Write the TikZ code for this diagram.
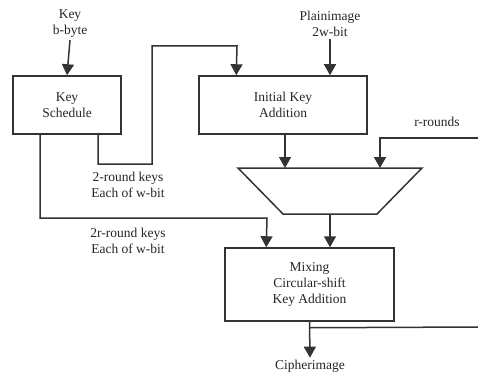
\documentclass[tikz,border=0pt]{standalone}
\usepackage{fontspec}
\setmainfont{Liberation Serif}
\usepackage{tikz}
\usetikzlibrary{arrows.meta}
\usetikzlibrary{positioning}
\tikzstyle{block}=[draw=black!80,line width=1.5pt,inner sep=0pt,align=center,text=black!85]
\tikzstyle{edge} = [draw,line width=1.5pt,black!80,-{Triangle[width=12pt,length=11pt]}]
\tikzstyle{wire} = [draw,line width=1.5pt,black!80]
\tikzstyle{note} = [align=center,inner sep=2pt,text=black!85]

\begin{document}
\begin{tikzpicture}[x=1pt,y=-1pt,font=\fontsize{13.5}{16}\selectfont]
    \useasboundingbox (0,0) rectangle (478,374);
    % boxes
    \node[block,minimum width=108pt,minimum height=58pt] (keysched) at (67,105) {Key\\Schedule};
    \node[block,minimum width=168pt,minimum height=58pt] (initkey) at (283,105) {Initial Key\\Addition};
    \node[block,minimum width=169pt,minimum height=73pt] (mixing) at (309.5,284.5) {Mixing\\Circular-shift\\Key Addition};
    % mux
    \draw[wire,line join=miter] (238,168) -- (422,168) -- (377,214) -- (283,214) -- cycle;
    \coordinate (muxtop) at (330,168);
    \coordinate (muxout) at (330,214);
    % texts
    \foreach \pos/\name/\txt in {{(70,24)/keyin/Key\\b-byte}, {(330,24)/plainin/Plainimage\\2w-bit},
        {(128,185)/tworound/2-round keys\\Each of w-bit}, {(128,241)/rround/2r-round keys\\Each of w-bit},
        {(437,122)/rounds/r-rounds}, {(310,366)/cipher/Cipherimage}}
        \node[note] (\name) at \pos {\txt};
    \coordinate (rin) at (478,138);
    \coordinate (fb) at (478,327);
    % connectors
    \path[edge] (keyin.south) -- (keysched.north);
    \path[edge] (plainin.south) -- (plainin.south |- initkey.north);
    \path[edge] ([xshift=31pt]keysched.south) |- (152,164) |- (237,46) -- ([xshift=38pt]initkey.north west);
    \path[edge] ([xshift=-27pt]keysched.south) |- (267,218) -- ([xshift=42pt]mixing.north west);
    \path[edge] ([xshift=2pt]initkey.south) -- ([xshift=2pt]initkey.south |- muxtop);
    \path[edge] (rin) -| ([xshift=50pt]muxtop);
    \path[edge] (muxout) -- (muxout |- mixing.north);
    \path[edge] (mixing.south) -- (cipher.north);
    \path[wire] ([yshift=-6pt]mixing.south) -- (fb);
\end{tikzpicture}
\end{document}
